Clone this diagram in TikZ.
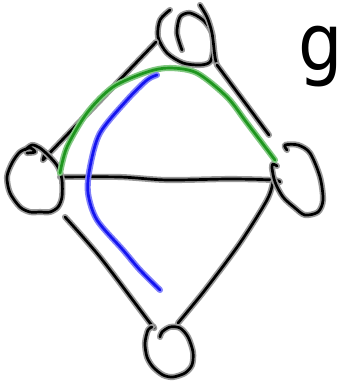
\documentclass[tikz,border=0pt]{standalone}
\usepackage{fontspec}
\newfontfamily\handfont{DejaVu Sans}
\begin{document}
\begin{tikzpicture}[x=0.03cm,y=-0.03cm,
  ink/.style={draw=black, line width=2.3pt, line cap=round, line join=round,
    preaction={draw=black!40, line width=5.2pt, line cap=round, line join=round}},
  gink/.style={draw={rgb,255:red,30;green,150;blue,30}, line width=2.3pt, line cap=round, line join=round,
    preaction={draw={rgb,255:red,130;green,200;blue,130}, line width=5.2pt, line cap=round, line join=round}},
  bink/.style={draw={rgb,255:red,20;green,20;blue,240}, line width=2.3pt, line cap=round, line join=round,
    preaction={draw={rgb,255:red,130;green,130;blue,250}, line width=5.2pt, line cap=round, line join=round}},
  lbl/.style={inner sep=0pt, font=\handfont\fontsize{52}{52}\selectfont}
]
\useasboundingbox (0,0) rectangle (346,383);
% named end points
\coordinate (T) at (217,65);
\coordinate (TL) at (156,42);
\coordinate (L) at (45,152);
\coordinate (LR) at (60,177);
\coordinate (R) at (280,182);
\coordinate (Rx) at (273,182);
\coordinate (TR) at (269,135);
\coordinate (LB) at (65,217);
\coordinate (B) at (153,326);
\coordinate (BR) at (178,323);
% top vertex
\draw[ink] plot[smooth] coordinates {(170,10) (160,20) (158,37) (167,53) (183,63) (200,65) (210,62) (213,50) (212,33) (203,20) (190,13) (180,17) (177,33) (182,50)};
\draw[ink] plot[smooth] coordinates {(200,5) (207,17) (212,33) (215,57) (T)};
% edges
\draw[ink] (T) -- (TR);
\draw[ink] (TL) -- (43,160) -- (L);
\draw[ink] plot[smooth] coordinates {(LR) (120,177) (167,180) (230,179) (273,180) (R)};
\draw[ink] plot[smooth] coordinates {(Rx) (267,200) (240,243) (205,290) (BR)};
\draw[ink] plot[smooth] coordinates {(LB) (100,257) (150,323) (B)};
% left vertex
\draw[ink] plot[smooth] coordinates {(25,150) (32,145) (40,148) (50,157) (58,167) (62,180) (62,197) (58,207) (50,212) (40,212) (30,212) (20,207) (10,193) (7,177) (12,163) (20,152) (30,148) (35,152) (27,153)};
% right vertex
\draw[ink] plot[smooth] coordinates {(287,150) (285,145) (298,145) (310,153) (320,177) (323,200) (318,212) (305,215) (295,208) (283,197) (275,182) (272,168) (273,164) (277,166)};
% bottom vertex
\draw[ink] plot[smooth] coordinates {(160,337) (162,332) (170,327) (180,328) (188,337) (193,352) (192,365) (185,373) (173,377) (163,375) (153,367) (147,357) (145,343) (148,330) (152,327)};
% green arc
\draw[gink] plot[smooth] coordinates {(60,173) (67,147) (87,113) (113,87) (147,72) (170,68) (197,73) (227,97) (247,123) (275,160)};
% blue curve
\draw[bink] plot[smooth] coordinates {(157,75) (147,80) (127,100) (100,133) (90,167) (88,193) (97,220) (123,250) (140,270) (160,290)};
% label
\node[lbl, anchor=base] (g) at (321,70) {\scalebox{1.15}[1.3]{g}};
\end{tikzpicture}
\end{document}
